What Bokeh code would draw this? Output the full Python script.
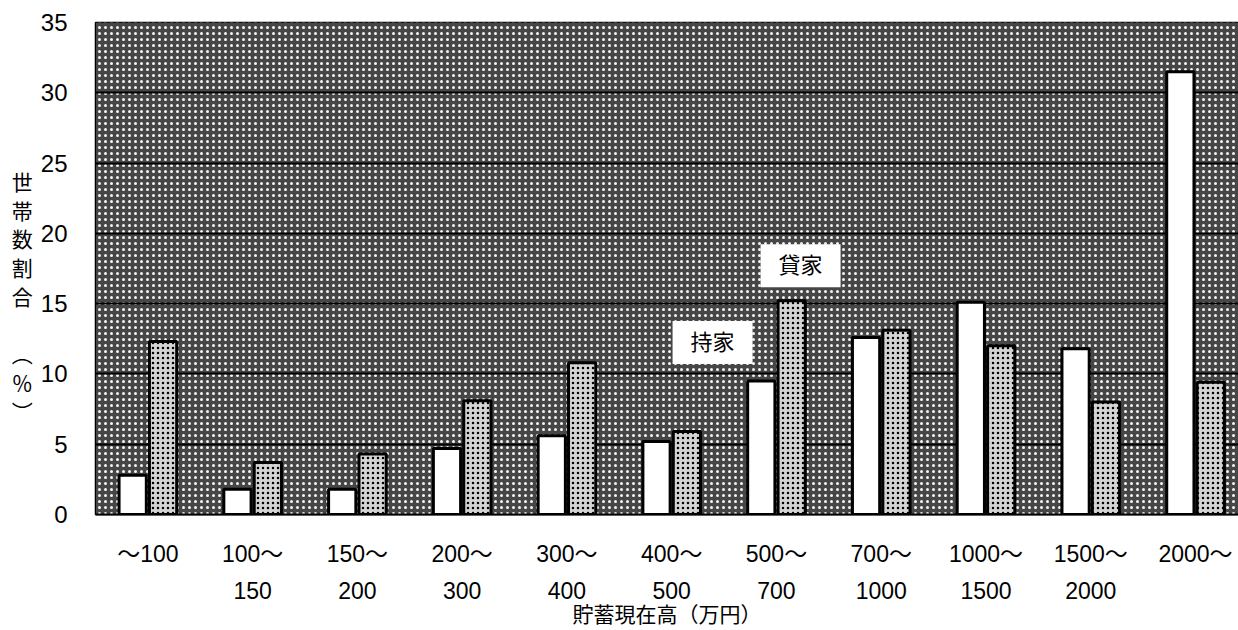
from bokeh.plotting import figure
from bokeh.models import Range1d, Label, BoxAnnotation, ColumnDataSource, FixedTicker
from bokeh.transform import dodge
from bokeh.embed import file_html
from bokeh.resources import INLINE

categories = ["～100", "100～\n150", "150～\n200", "200～\n300", "300～\n400",
              "400～\n500", "500～\n700", "700～\n1000", "1000～\n1500",
              "1500～\n2000", "2000～"]
own_house = [2.8, 1.8, 1.8, 4.7, 5.6, 5.2, 9.5, 12.6, 15.1, 11.8, 31.5]
rent_house = [12.3, 3.7, 4.3, 8.1, 10.8, 5.9, 15.2, 13.1, 12.0, 8.0, 9.4]
y_ticks = [0, 5, 10, 15, 20, 25, 30, 35]
grid_levels = [5, 10, 15, 20, 25, 30]

FONT = "'Liberation Sans', 'Noto Sans CJK JP', sans-serif"

xs = list(range(len(categories)))
src = ColumnDataSource(dict(x=xs, own=own_house, rent=rent_house))

p = figure(width=1238, height=630, output_backend="svg", toolbar_location=None,
           x_range=Range1d(-0.5, 10.41), y_range=Range1d(0, 35),
           min_border_left=95, min_border_right=0, min_border_top=22,
           min_border_bottom=116)
p.background_fill_color = "#474747"
p.outline_line_color = "black"
p.outline_line_width = 1.5

bg = BoxAnnotation(fill_color="#464646", fill_alpha=1.0, line_color=None,
                   hatch_pattern="dot", hatch_color="#f4f4f4", hatch_scale=6,
                   hatch_weight=4, hatch_alpha=1.0, level="underlay")
p.add_layout(bg)

p.xgrid.visible = False
p.ygrid.visible = False
p.hspan(y=grid_levels, line_color="black", line_width=2)

p.vbar(x=dodge("x", -0.145), top="own", width=0.26, bottom=0, source=src,
       fill_color="white", line_color="black", line_width=3)
p.vbar(x=dodge("x", 0.145), top="rent", width=0.26, bottom=0, source=src,
       fill_color="#d4d4d4", line_color="black", line_width=3,
       hatch_pattern="dot", hatch_color="black", hatch_scale=5)

# x axis
p.xaxis.ticker = FixedTicker(ticks=xs)
p.xaxis.major_label_overrides = {i: c for i, c in enumerate(categories)}
p.xaxis.major_tick_line_color = None
p.xaxis.minor_tick_line_color = None
p.xaxis.axis_line_color = "black"
p.xaxis.axis_line_width = 2
p.xaxis.major_label_text_font = FONT
p.xaxis.major_label_text_font_size = "23px"
p.xaxis.major_label_text_color = "black"
p.xaxis.major_label_standoff = 20
p.xaxis.major_label_text_line_height = 1.45
p.xaxis.axis_label = "貯蓄現在高（万円）"
p.xaxis.axis_label_text_font = FONT
p.xaxis.axis_label_text_font_size = "21px"
p.xaxis.axis_label_text_font_style = "normal"
p.xaxis.axis_label_text_color = "black"
p.xaxis.axis_label_standoff = -4

# y axis
p.yaxis.ticker = FixedTicker(ticks=y_ticks)
p.yaxis.major_tick_line_color = None
p.yaxis.minor_tick_line_color = None
p.yaxis.axis_line_color = "black"
p.yaxis.major_label_text_font = FONT
p.yaxis.major_label_text_font_size = "24px"
p.yaxis.major_label_text_color = "black"
p.yaxis.major_label_standoff = 22
p.yaxis.axis_label = "\u3000\n\u3000\n世\n帯\n数\n割\n合\n\n︵\n％\n︶"
p.yaxis.axis_label_orientation = "horizontal"
p.yaxis.axis_label_text_font = FONT
p.yaxis.axis_label_text_font_size = "21px"
p.yaxis.axis_label_text_font_style = "normal"
p.yaxis.axis_label_text_color = "black"
p.yaxis.axis_label_text_line_height = 1.25
p.yaxis.axis_label_standoff = 5

# series labels in white boxes
p.add_layout(Label(x=5.39, y=12.23, text="持家", text_font=FONT,
                   text_font_size="22px", text_color="black",
                   text_align="center", text_baseline="middle",
                   background_fill_color="white",
                   padding=dict(left=18, right=18, top=9, bottom=9)))
p.add_layout(Label(x=6.23, y=17.7, text="貸家", text_font=FONT,
                   text_font_size="22px", text_color="black",
                   text_align="center", text_baseline="middle",
                   background_fill_color="white",
                   padding=dict(left=18, right=18, top=9, bottom=9)))

open("out.html", "w").write(file_html(p, INLINE))
